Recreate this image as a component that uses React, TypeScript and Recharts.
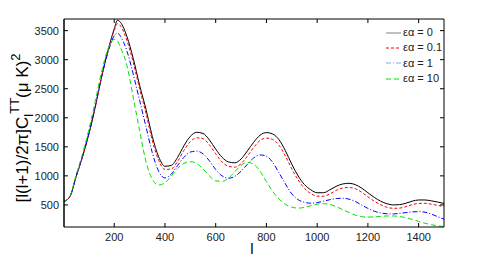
import React from 'react';
import { LineChart, Line, XAxis, YAxis, Legend } from 'recharts';

const ell = [2, 25, 50, 75, 100, 125, 150, 175, 200, 213, 225, 250, 275, 300, 325, 350, 375, 400, 425, 450, 475, 500, 525, 550, 575, 600, 625, 650, 675, 700, 725, 750, 775, 800, 825, 850, 875, 900, 925, 950, 975, 1000, 1025, 1050, 1075, 1100, 1125, 1150, 1175, 1200, 1225, 1250, 1275, 1300, 1325, 1350, 1375, 1400, 1425, 1450, 1475, 1500];

const ea0 = [560, 640, 990, 1330, 1720, 2180, 2700, 3150, 3530, 3680, 3640, 3400, 3020, 2560, 2150, 1680, 1330, 1165, 1180, 1320, 1520, 1680, 1750, 1730, 1620, 1460, 1320, 1240, 1225, 1290, 1430, 1580, 1700, 1745, 1720, 1620, 1430, 1200, 1000, 850, 760, 710, 710, 760, 820, 860, 872, 850, 790, 710, 630, 565, 520, 500, 505, 530, 565, 585, 585, 570, 550, 525];
const ea01 = [560, 640, 990, 1330, 1720, 2180, 2700, 3140, 3500, 3620, 3580, 3330, 2950, 2500, 2080, 1610, 1270, 1110, 1120, 1250, 1440, 1590, 1655, 1640, 1535, 1380, 1240, 1165, 1150, 1210, 1340, 1490, 1610, 1650, 1625, 1525, 1340, 1120, 930, 785, 695, 650, 650, 690, 750, 790, 800, 780, 720, 640, 565, 505, 460, 442, 445, 470, 505, 525, 528, 512, 492, 470];
const ea1 = [560, 640, 1000, 1340, 1730, 2190, 2700, 3120, 3410, 3460, 3400, 3150, 2750, 2300, 1850, 1400, 1080, 965, 1030, 1180, 1320, 1410, 1425, 1380, 1260, 1110, 1000, 960, 990, 1080, 1200, 1310, 1360, 1340, 1230, 1050, 860, 690, 590, 545, 530, 540, 565, 590, 610, 615, 600, 560, 500, 440, 392, 362, 348, 345, 355, 368, 380, 384, 375, 342, 298, 255];
const ea10 = [560, 650, 1020, 1380, 1800, 2280, 2790, 3180, 3350, 3320, 3210, 2900, 2350, 1780, 1250, 940, 843, 880, 1000, 1130, 1215, 1244, 1215, 1120, 1000, 915, 905, 960, 1070, 1180, 1232, 1200, 1080, 900, 730, 600, 510, 462, 445, 458, 488, 512, 522, 508, 470, 420, 370, 325, 298, 290, 294, 303, 310, 310, 300, 280, 250, 215, 185, 160, 140, 125];

const xTicks = [200, 400, 600, 800, 1000, 1200, 1400];
const yTicks = [500, 1000, 1500, 2000, 2500, 3000, 3500];

const series = [
  { key: 'a0', name: 'εα = 0', color: '#000000', dash: undefined as string | undefined, legendColor: '#808080' },
  { key: 'a01', name: 'εα = 0.1', color: '#ff0000', dash: '3 2', legendColor: '#ff0000' },
  { key: 'a1', name: 'εα = 1', color: '#0000ff', dash: '5 2 1 2', legendColor: '#9999ff' },
  { key: 'a10', name: 'εα = 10', color: '#00e000', dash: '5 3', legendColor: '#00e000' },
];

const data = ell.map((l, i) => ({ l, a0: ea0[i], a01: ea01[i], a1: ea1[i], a10: ea10[i] }));

const FONT = 'Liberation Sans, Arial, sans-serif';

const LeftTick = (props: any) => {
  const { y, payload } = props;
  return (
    <g>
      <line x1={64} x2={68} y1={y} y2={y} stroke="#000" />
      <text x={59} y={y + 4} textAnchor="end" fontSize={11} fontFamily={FONT} fill="#222">{payload.value}</text>
    </g>
  );
};
const RightTick = (props: any) => {
  const { y } = props;
  return <line x1={440} x2={444} y1={y} y2={y} stroke="#000" />;
};
const BottomTick = (props: any) => {
  const { x, payload } = props;
  return (
    <g>
      <line x1={x} x2={x} y1={227} y2={223} stroke="#000" />
      <text x={x} y={241} textAnchor="middle" fontSize={11} fontFamily={FONT} fill="#222">{payload.value}</text>
    </g>
  );
};
const TopTick = (props: any) => {
  const { x } = props;
  return <line x1={x} x2={x} y1={19} y2={23} stroke="#000" />;
};

const YLabel = () => (
  <text transform="translate(28,128) rotate(-90)" textAnchor="middle" fontSize={17} fontFamily={FONT} fill="#000">
    [l(l+1)/2π]C<tspan fontSize={13} dy={5}>l</tspan><tspan fontSize={13} dy={-14}>TT</tspan><tspan fontSize={17} dy={9}>(μ K)</tspan><tspan fontSize={13} dy={-8}>2</tspan>
  </text>
);

const LegendContent = () => (
  <div style={{ fontFamily: FONT, fontSize: 11, color: '#222', lineHeight: '15.3px' }}>
    {series.map((s) => (
      <div key={s.key} style={{ display: 'flex', alignItems: 'center', height: 15.3 }}>
        <svg width={17} height={6} style={{ marginRight: 1 }}>
          <line x1={1} x2={16} y1={3} y2={3} stroke={s.legendColor} strokeWidth={1} strokeDasharray={s.dash} />
        </svg>
        <span>{s.name}</span>
      </div>
    ))}
  </div>
);

export default function App() {
  return (
    <div style={{ position: 'absolute', left: 0, top: 0, width: 491, height: 257, background: '#fff' }}>
      <LineChart width={491} height={257} data={data} margin={{ top: 0, right: 0, bottom: 0, left: 0 }}>
        <XAxis xAxisId="b" dataKey="l" type="number" domain={[2, 1500]} ticks={xTicks} interval={0} allowDataOverflow height={30} tick={<BottomTick />} tickLine={false} axisLine={{ stroke: '#000' }} />
        <XAxis xAxisId="t" orientation="top" dataKey="l" type="number" domain={[2, 1500]} ticks={xTicks} interval={0} allowDataOverflow height={19} tick={<TopTick />} tickLine={false} axisLine={{ stroke: '#000' }} />
        <YAxis yAxisId="l" type="number" domain={[120, 3700]} ticks={yTicks} interval={0} allowDataOverflow width={64} tick={<LeftTick />} tickLine={false} axisLine={{ stroke: '#000', strokeWidth: 1.5 }} />
        <YAxis yAxisId="r" orientation="right" type="number" domain={[120, 3700]} ticks={yTicks} interval={0} allowDataOverflow width={47} tick={<RightTick />} tickLine={false} axisLine={{ stroke: '#000' }} />
        {series.map((s) => (
          <Line key={s.key} xAxisId="b" yAxisId="l" dataKey={s.key} name={s.name} type="monotone" stroke={s.color} strokeWidth={1} strokeDasharray={s.dash} dot={false} isAnimationActive={false} />
        ))}
        <Legend layout="vertical" align="center" verticalAlign="middle" content={<LegendContent />} wrapperStyle={{ position: 'absolute', left: 385, top: 25, width: 60 }} />
      </LineChart>
      <svg width={491} height={257} style={{ position: 'absolute', left: 0, top: 0, pointerEvents: 'none' }}>
        <YLabel />
        <text x={252} y={254} textAnchor="middle" fontSize={15} fontFamily={FONT} fill="#000">l</text>
      </svg>
    </div>
  );
}
